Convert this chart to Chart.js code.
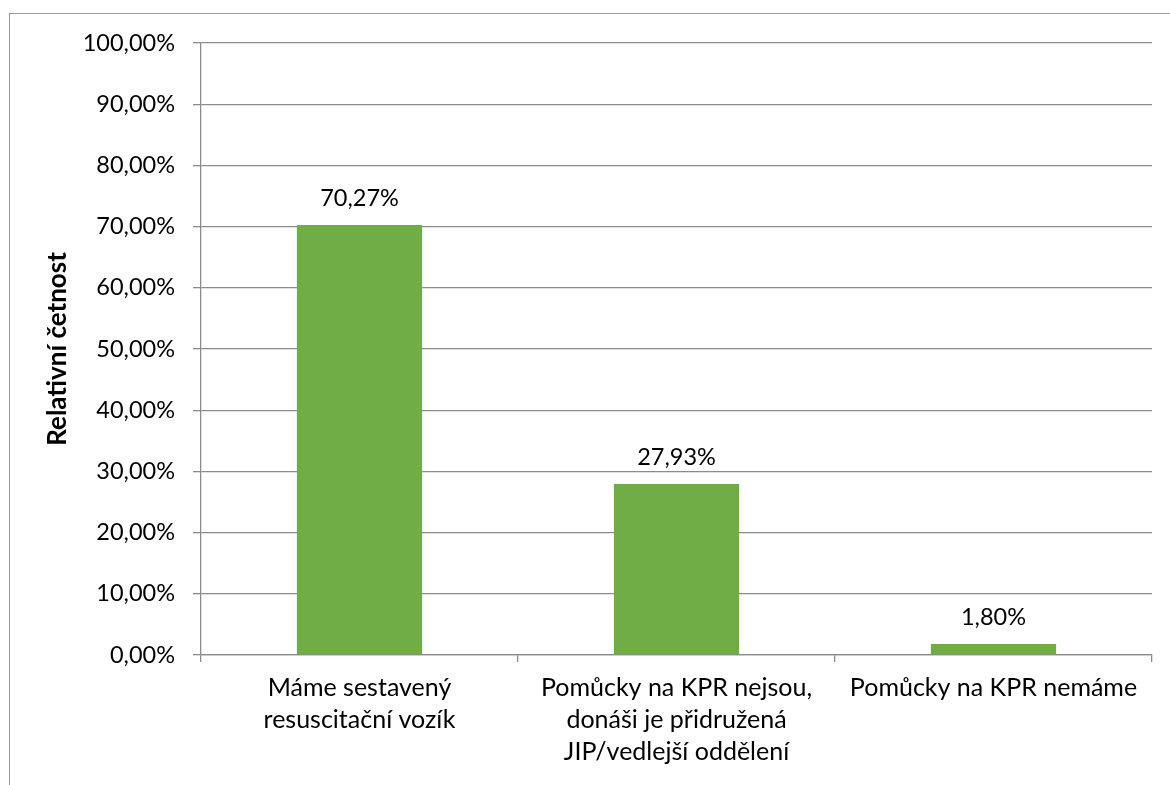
<!DOCTYPE html>
<html lang="cs">
<head>
<meta charset="utf-8">
<title>Relativní četnost</title>
<script src="https://cdn.jsdelivr.net/npm/chart.js@4/dist/chart.umd.min.js"></script>
<style>
    html, body { margin: 0; padding: 0; background: #fff; }
    .frame {
        position: absolute;
        left: 9px;
        top: 13px;
        width: 1300px;
        height: 900px;
        border-left: 1px solid #9a9a9a;
        border-top: 1px solid #9a9a9a;
    }
    .wrap { position: absolute; left: 0; top: 0; width: 1170px; height: 785px; }
</style>
</head>
<body>
<div class="frame"></div>
<div class="wrap"><canvas id="chart" width="1170" height="785"></canvas></div>
<script>
// Data
const categories = [
    ['Máme sestavený', 'resuscitační vozík'],
    ['Pomůcky na KPR nejsou,', 'donáši je přidružená', 'JIP/vedlejší oddělení'],
    ['Pomůcky na KPR nemáme']
];
const shares = [70.27, 27.93, 1.80];
const yTicks = [0, 10, 20, 30, 40, 50, 60, 70, 80, 90, 100];
const yTitle = 'Relativní četnost';

const FONT = 'Lato, "Open Sans", sans-serif';
const fmt = v => v.toFixed(2).replace('.', ',') + '%';

// Value labels above each bar
const barLabels = {
    id: 'barLabels',
    afterDatasetsDraw(chart) {
        const ctx = chart.ctx;
        const meta = chart.getDatasetMeta(0);
        ctx.save();
        ctx.font = '23.5px ' + FONT;
        ctx.fillStyle = '#000';
        ctx.textAlign = 'center';
        ctx.textBaseline = 'alphabetic';
        meta.data.forEach((bar, i) => {
            ctx.fillText(fmt(shares[i]), bar.x, bar.y - 19);
        });
        ctx.restore();
    }
};

const ctx = document.getElementById('chart').getContext('2d');
const chart = new Chart(ctx, {
    type: 'bar',
    data: {
        labels: categories,
        datasets: [{
            data: shares,
            backgroundColor: '#70ad47',
            borderWidth: 0,
            categoryPercentage: 1,
            barPercentage: 0.395
        }]
    },
    options: {
        responsive: false,
        animation: false,
        layout: { padding: { top: 43, right: 18, left: 0, bottom: 0 } },
        plugins: {
            legend: { display: false },
            tooltip: { enabled: false }
        },
        scales: {
            x: {
                offset: true,
                afterFit: scale => { scale.height = 130; },
                grid: {
                    offset: true,
                    drawOnChartArea: false,
                    color: '#8c8c8c',
                    lineWidth: 1.3,
                    tickLength: 7
                },
                border: { color: '#8c8c8c', width: 1.3 },
                ticks: {
                    color: '#000',
                    font: { family: FONT, size: 25, lineHeight: 1.28 },
                    padding: 10,
                    maxRotation: 0,
                    autoSkip: false
                }
            },
            y: {
                min: 0,
                max: 100,
                afterFit: scale => { scale.width = 201; },
                afterBuildTicks: scale => {
                    scale.ticks = yTicks.map(v => ({ value: v }));
                },
                grid: {
                    color: '#8c8c8c',
                    lineWidth: 1.3,
                    tickLength: 8
                },
                border: { color: '#8c8c8c', width: 1.3 },
                ticks: {
                    color: '#000',
                    font: { family: FONT, size: 23.5 },
                    padding: 18,
                    callback: v => fmt(v)
                },
                title: {
                    display: true,
                    text: yTitle,
                    color: '#000',
                    font: { family: FONT, size: 26, weight: 'bold' },
                    padding: { top: 42, bottom: 0 }
                }
            }
        }
    },
    plugins: [barLabels]
});
</script>
</body>
</html>
